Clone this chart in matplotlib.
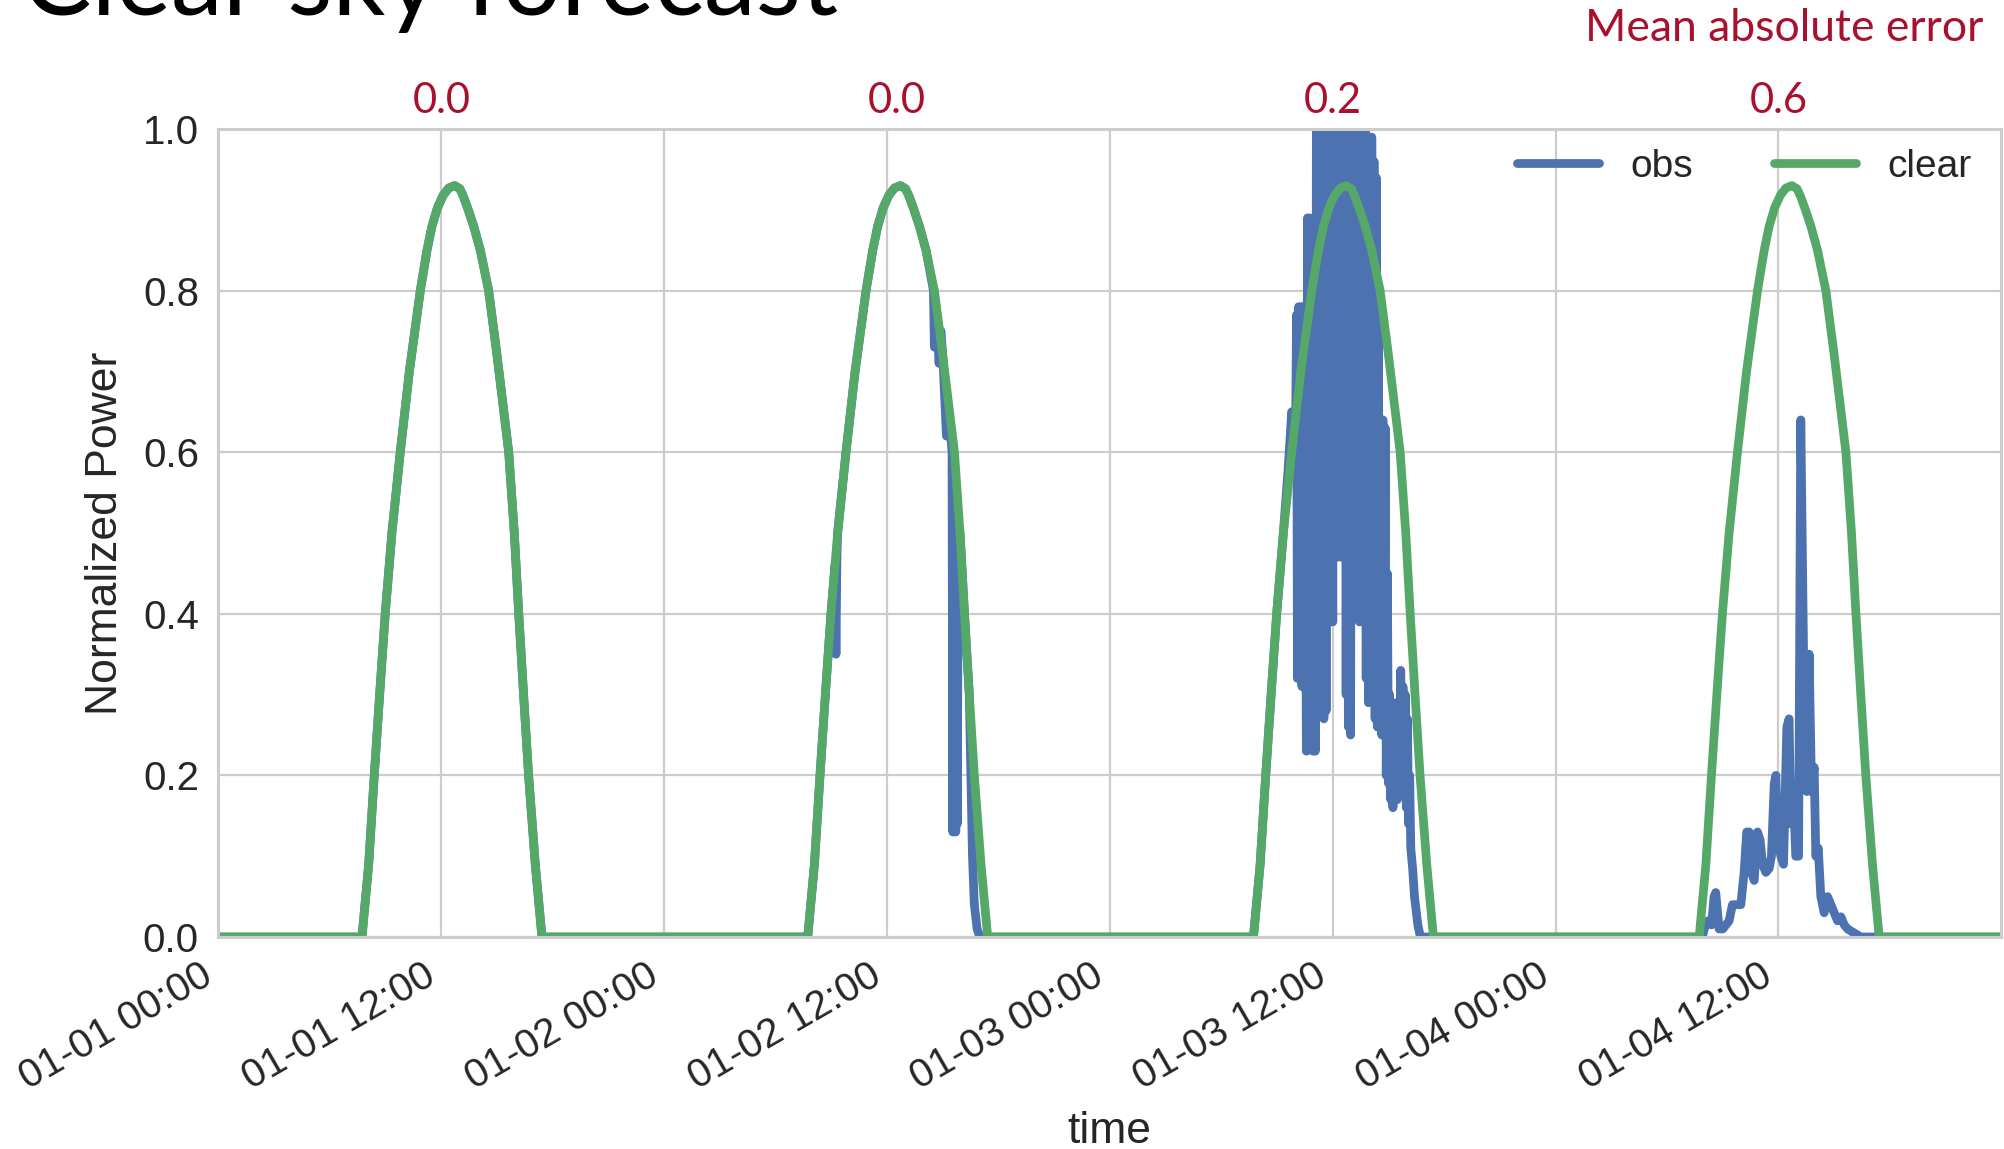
import numpy as np
import pandas as pd
import matplotlib
matplotlib.use('Agg')
import matplotlib.pyplot as plt
import matplotlib.dates as mdates
from matplotlib.transforms import blended_transform_factory

# ---- data ----
days = ['2016-01-01', '2016-01-02', '2016-01-03', '2016-01-04']
mae_labels = ['0.0', '0.0', '0.2', '0.6']
mae_hod = [12.0, 12.55, 12.0, 12.0]

# clear sky profile (hour of day, normalized power) - same every day
clear_hod = [0, 7.73, 8.09, 8.39, 8.68, 8.98, 9.34, 9.79, 10.28, 10.87, 11.23, 11.5,
             11.8, 12.1, 12.4, 12.72, 13.0, 13.2, 13.45, 13.74, 14.1, 14.55, 15.0,
             15.63, 15.93, 16.17, 16.43, 16.7, 17.06, 17.42, 23.98]
clear_val = [0, 0, 0.09, 0.2, 0.3, 0.4, 0.5, 0.6, 0.7, 0.8, 0.85, 0.88,
             0.903, 0.918, 0.927, 0.93, 0.926, 0.916, 0.9, 0.88, 0.85, 0.8, 0.72,
             0.6, 0.5, 0.4, 0.3, 0.2, 0.09, 0, 0]

# observations, day 1 is identical to clear sky
obs1_hod = clear_hod
obs1_val = clear_val

obs2_hod = [0, 7.73, 8.09, 8.39, 8.68, 8.98, 9.2, 9.25, 9.3, 9.34, 9.79, 10.28, 10.87,
            11.23, 11.5, 11.8, 12.1, 12.4, 12.72, 13.0, 13.2, 13.45, 13.74, 14.1, 14.5,
            14.55, 14.65, 14.8, 14.9, 15.0, 15.2, 15.3, 15.5, 15.54, 15.58, 15.62, 15.66,
            15.7, 15.74, 15.78, 15.84, 15.93, 16.17, 16.43, 16.6, 16.7, 16.85, 17.0,
            23.98]
obs2_val = [0, 0, 0.09, 0.2, 0.3, 0.4, 0.46, 0.35, 0.47, 0.5, 0.6, 0.7, 0.8,
            0.85, 0.88, 0.903, 0.918, 0.927, 0.93, 0.926, 0.916, 0.9, 0.88, 0.85, 0.8,
            0.73, 0.78, 0.71, 0.75, 0.72, 0.62, 0.66, 0.6, 0.13, 0.58, 0.13, 0.55,
            0.13, 0.52, 0.14, 0.5, 0.5, 0.4, 0.3, 0.1, 0.04, 0.01, 0,
            0]

obs3_hod = [0, 7.73, 8.09, 8.39, 8.68, 8.98, 9.34, 9.6, 9.79, 9.85, 9.92, 9.98,
            10.05, 10.1, 10.16, 10.22, 10.28, 10.34, 10.4, 10.46, 10.52, 10.58, 10.64,
            10.7, 10.76, 10.82, 10.88, 10.94, 11.0, 11.06, 11.12, 11.17, 11.22, 11.28,
            11.34, 11.4, 11.46, 11.52, 11.58, 11.64, 11.7, 11.76, 11.82, 11.88, 11.94,
            12.0, 12.06, 12.12, 12.18, 12.24, 12.3, 12.36, 12.42, 12.48, 12.54, 12.6,
            12.66, 12.72, 12.78, 12.84, 12.9, 12.96, 13.02, 13.08, 13.14, 13.2, 13.26,
            13.32, 13.38, 13.44, 13.5, 13.56, 13.62, 13.68, 13.74, 13.8, 13.86, 13.92,
            13.98, 14.04, 14.1, 14.16, 14.22, 14.28, 14.34, 14.4, 14.46, 14.52, 14.58,
            14.64, 14.7, 14.76, 14.82, 14.88, 14.94, 15.0, 15.06, 15.12, 15.18, 15.24,
            15.3, 15.36, 15.42, 15.48, 15.54, 15.6, 15.66, 15.72, 15.78, 15.84, 15.9,
            15.96, 16.02, 16.08, 16.14, 16.2, 16.3, 16.4, 16.5, 16.58, 16.72, 23.98]
obs3_val = [0, 0, 0.09, 0.2, 0.3, 0.4, 0.5, 0.58, 0.65, 0.57, 0.64, 0.57,
            0.77, 0.32, 0.78, 0.33, 0.78, 0.31, 0.78, 0.32, 0.55, 0.23, 0.89,
            0.24, 0.89, 0.25, 0.55, 0.23, 0.5, 0.23, 1.02, 0.47, 1.02, 0.3,
            1.02, 0.28, 1.02, 0.27, 1.02, 0.28, 1.02, 0.4, 1.02, 0.39, 1.02,
            0.39, 1.02, 0.66, 1.02, 0.47, 1.02, 0.48, 1.02, 0.47, 0.85, 0.62,
            1.02, 0.3, 1.02, 0.26, 0.8, 0.25, 1.02, 0.7, 1.02, 0.55, 1.02,
            0.42, 1.02, 0.39, 1.02, 0.4, 1.02, 0.45, 1.02, 0.32, 0.95, 0.29,
            0.99, 0.35, 0.99, 0.55, 0.96, 0.27, 0.94, 0.26, 0.75, 0.26, 0.6,
            0.25, 0.64, 0.26, 0.63, 0.2, 0.45, 0.19, 0.3, 0.17, 0.26, 0.16,
            0.27, 0.18, 0.29, 0.17, 0.28, 0.19, 0.33, 0.19, 0.31, 0.18, 0.3,
            0.16, 0.27, 0.14, 0.2, 0.11, 0.085, 0.05, 0.03, 0.015, 0, 0]

obs4_hod = [0, 7.9, 8.0, 8.2, 8.4, 8.53, 8.62, 8.8, 9.0, 9.34, 9.52, 9.79, 9.97,
            10.15, 10.29, 10.42, 10.55, 10.69, 10.87, 11.01, 11.14, 11.32, 11.5, 11.62,
            11.77, 11.86, 11.95, 12.13, 12.27, 12.45, 12.57, 12.66, 12.79, 12.93, 13.08,
            13.2, 13.35, 13.47, 13.53, 13.65, 13.78, 13.92, 14.01, 14.14, 14.28, 14.46,
            14.64, 14.82, 15.0, 15.18, 15.36, 15.54, 15.72, 16.07, 16.43, 23.98]
obs4_val = [0, 0, 0.01, 0.02, 0.015, 0.05, 0.055, 0.01, 0.01, 0.02, 0.04, 0.04, 0.04,
            0.08, 0.13, 0.13, 0.08, 0.07, 0.13, 0.12, 0.09, 0.08, 0.085, 0.1,
            0.19, 0.2, 0.12, 0.1, 0.09, 0.26, 0.27, 0.14, 0.19, 0.1, 0.1,
            0.64, 0.35, 0.33, 0.18, 0.35, 0.18, 0.21, 0.1, 0.11, 0.05, 0.03,
            0.05, 0.04, 0.03, 0.02, 0.025, 0.015, 0.01, 0.005, 0, 0]

obs_days = [(obs1_hod, obs1_val), (obs2_hod, obs2_val),
            (obs3_hod, obs3_val), (obs4_hod, obs4_val)]


def stamps(day, hod):
    return pd.Timestamp(day) + pd.to_timedelta(np.asarray(hod, dtype=float), unit='h')


obs_t = np.concatenate([stamps(d, h) for d, (h, v) in zip(days, obs_days)])
obs_v = np.concatenate([v for h, v in obs_days])
clear_t = np.concatenate([stamps(d, clear_hod) for d in days])
clear_v = np.concatenate([clear_val for d in days])

# ---- style ----
txt = '#262626'
plt.rcParams['font.family'] = ['Liberation Sans', 'DejaVu Sans']
plt.rcParams['text.color'] = txt
plt.rcParams['axes.labelcolor'] = txt
plt.rcParams['xtick.color'] = txt
plt.rcParams['ytick.color'] = txt

fig = plt.figure(figsize=(20.04, 11.49), dpi=100)
ax = fig.add_axes([0.109, 0.1845, 0.8895, 0.7032])

ax.plot(obs_t, obs_v, color='#4C72B0', lw=6.3, label='obs', solid_capstyle='round')
ax.plot(clear_t, clear_v, color='#55A868', lw=6.3, label='clear', solid_capstyle='round')

ax.set_ylim(0, 1)
ax.set_xlim(clear_t[0], clear_t[-1])
ax.set_yticks(np.arange(0, 1.01, 0.2))
ax.yaxis.set_major_formatter(plt.FormatStrFormatter('%.1f'))
ax.xaxis.set_major_locator(mdates.HourLocator(byhour=[0, 12]))
ax.xaxis.set_major_formatter(mdates.DateFormatter('%m-%d %H:%M'))
for lab in ax.get_xticklabels():
    lab.set_rotation(30)
    lab.set_ha('right')

ax.grid(True, color='#cccccc', lw=1.6)
ax.set_axisbelow(True)
for s in ax.spines.values():
    s.set_color('#cccccc')
    s.set_linewidth(2.2)
ax.tick_params(length=0, labelsize=29, pad=14)

ax.set_xlabel('time', fontsize=32, labelpad=10)
ax.set_ylabel('Normalized Power', fontsize=32, labelpad=12)

ax.legend(loc='upper right', ncol=2, frameon=False, fontsize=28,
          bbox_to_anchor=(0.99, 0.99), borderaxespad=0.1, borderpad=0.2,
          handlelength=2.1, handletextpad=0.8, columnspacing=2.1)

# mean absolute error per day, above the axes
red = '#A8102E'
trans = blended_transform_factory(ax.transData, ax.transAxes)
for d, h, m in zip(days, mae_hod, mae_labels):
    ax.text(stamps(d, [h])[0], 1.035, m, transform=trans, ha='center', va='center',
            color=red, fontsize=30, family=['Lato', 'DejaVu Sans'])

fig.text(0.9895, 0.975, 'Mean absolute error', ha='right', va='center',
         color=red, fontsize=32, family=['Lato', 'DejaVu Sans'])
fig.text(0.011, 1 - 15 / 1149, 'Clear sky forecast', ha='left', va='baseline',
         color='black', fontsize=75, family=['Lato', 'DejaVu Sans'])

fig.savefig('out.png', dpi=100)
